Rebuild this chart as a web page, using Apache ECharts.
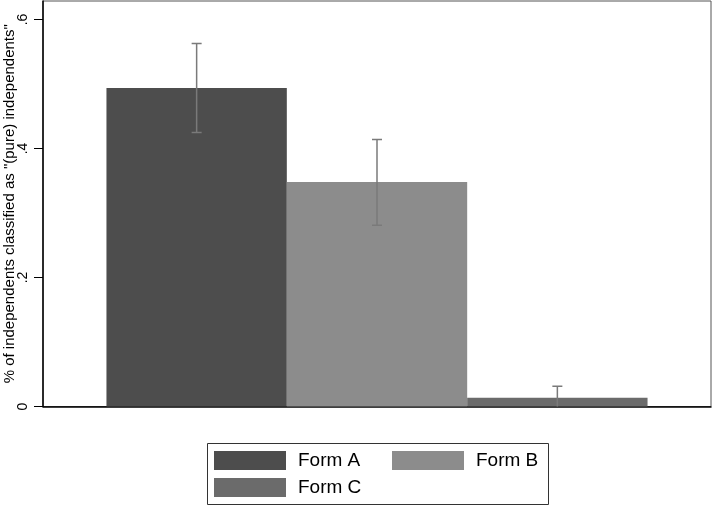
<!DOCTYPE html>
<html>
<head>
<meta charset="utf-8">
<script src="https://cdn.jsdelivr.net/npm/echarts@6/dist/echarts.min.js"></script>
<style>
  html, body { margin: 0; padding: 0; background: #fff; }
  #chart { width: 714px; height: 507px; }
</style>
</head>
<body>
<div id="chart"></div>
<script>
const forms = ['Form A', 'Form B', 'Form C']
const shares = [0.494, 0.348, 0.0135]
const errLow = [0.425, 0.281, -0.004]
const errHigh = [0.563, 0.414, 0.0315]
const yTicks = [0, 0.2, 0.4, 0.6]
const barColors = ['#4d4d4d', '#8c8c8c', '#6b6b6b']

const chart = echarts.init(document.getElementById('chart'))

const CAT_GAP = 0.19
const font = 'Liberation Sans, Arial, sans-serif'

const barSeries = forms.map((name, i) => ({
  name: name,
  type: 'bar',
  data: [shares[i]],
  barGap: '0%',
  barCategoryGap: CAT_GAP * 100 + '%',
  itemStyle: { color: barColors[i] },
  emphasis: { disabled: true }
}))

const errorSeries = {
  type: 'custom',
  name: 'ci',
  z: 5,
  clip: true,
  data: forms.map((f, i) => [0, errLow[i], errHigh[i], i]),
  renderItem: (params, api) => {
    const i = api.value(3)
    const band = api.size([1, 0])[0]
    const group = band * (1 - CAT_GAP)
    const barW = group / forms.length
    const center = api.coord([0, 0])[0]
    const x = center - group / 2 + barW * (i + 0.5)
    const yLo = api.coord([0, api.value(1)])[1]
    const yHi = api.coord([0, api.value(2)])[1]
    const cap = 5
    const style = { stroke: '#7a7a7a', lineWidth: 1.5 }
    return {
      type: 'group',
      children: [
        { type: 'line', shape: { x1: x, y1: yLo, x2: x, y2: yHi }, style },
        { type: 'line', shape: { x1: x - cap, y1: yHi, x2: x + cap, y2: yHi }, style },
        { type: 'line', shape: { x1: x - cap, y1: yLo, x2: x + cap, y2: yLo }, style }
      ]
    }
  }
}

const legendBase = {
  orient: 'horizontal',
  padding: 0,
  itemWidth: 72,
  itemHeight: 19,
  icon: 'rect',
  selectedMode: false,
  textStyle: { fontSize: 19, fontFamily: font, color: '#000', padding: [0, 0, 0, 7] }
}

const option = {
  animation: false,
  backgroundColor: '#fff',
  grid: {
    left: 43,
    right: 3,
    top: 1,
    bottom: 100.5,
    outerBoundsMode: 'none',
    containLabel: false,
    show: true,
    borderColor: '#555',
    borderWidth: 1
  },
  xAxis: {
    type: 'category',
    data: [''],
    axisLine: { show: true, lineStyle: { color: '#000', width: 1.5 } },
    axisTick: { show: false },
    axisLabel: { show: false }
  },
  yAxis: {
    type: 'value',
    min: 0,
    max: 0.6287,
    name: '% of independents classified as "(pure) independents"',
    nameLocation: 'middle',
    nameRotate: 90,
    nameGap: 26,
    nameMoveOverlap: false,
    nameTextStyle: { fontSize: 15, fontFamily: font, color: '#000' },
    axisLine: { show: true, lineStyle: { color: '#000', width: 1.5 } },
    axisTick: { show: true, length: 9, customValues: yTicks, lineStyle: { color: '#000' } },
    axisLabel: {
      customValues: yTicks,
      rotate: 90,
      margin: 13,
      fontSize: 14,
      fontFamily: font,
      color: '#000',
      formatter: v => (v === 0 ? '0' : String(v).replace(/^0/, ''))
    },
    splitLine: { show: false }
  },
  legend: [
    Object.assign({}, legendBase, { data: [forms[0]], left: 214, top: 451 }),
    Object.assign({}, legendBase, { data: [forms[1]], left: 392, top: 451 }),
    Object.assign({}, legendBase, { data: [forms[2]], left: 214, top: 478 })
  ],
  graphic: [
    {
      type: 'rect',
      shape: { x: 207.5, y: 443.5, width: 341, height: 61 },
      style: { fill: 'none', stroke: '#333', lineWidth: 1 }
    }
  ],
  series: barSeries.concat([errorSeries])
}

chart.setOption(option)
</script>
</body>
</html>
